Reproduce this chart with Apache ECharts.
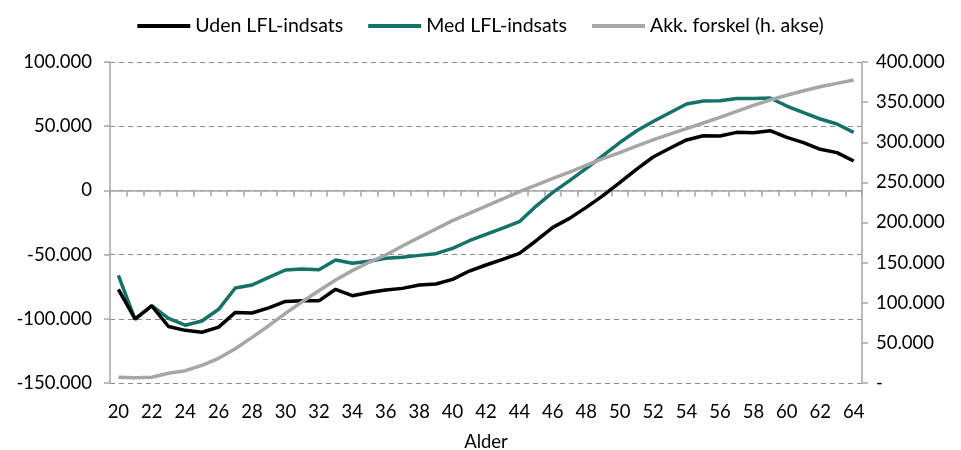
<!DOCTYPE html>
<html>
<head>
<meta charset="utf-8">
<script src="https://cdn.jsdelivr.net/npm/echarts@6/dist/echarts.min.js"></script>
<style>
  html, body { margin: 0; padding: 0; background: #fff; }
  #chart { width: 961px; height: 450px; }
</style>
</head>
<body>
<div id="chart"></div>
<script>
const ages = [];
for (let a = 20; a <= 64; a++) ages.push(String(a));

const udenLFL = [
  -77000, -100000, -90000, -106000, -109000, -110500, -106500, -95000, -95500, -91500,
  -86500, -86000, -86000, -77000, -82000, -79500, -77500, -76300, -73700, -72900,
  -69300, -62800, -58100, -53700, -49000, -39200, -28800, -21800, -13200, -4100,
  6000, 16400, 26000, 32800, 39300, 42600, 42400, 45200, 44900, 46500,
  41300, 37200, 32000, 29400, 22900
];

const medLFL = [
  -66100, -100500, -89800, -99600, -105000, -101700, -92600, -76000, -73700, -67700,
  -62000, -61200, -61800, -54200, -56800, -55200, -52900, -52100, -50600, -49300,
  -45100, -39200, -34200, -29300, -24400, -12200, -1500, 7600, 17200, 27000,
  37200, 46300, 53600, 60500, 67300, 69600, 69900, 71500, 71500, 72000,
  65700, 60500, 55600, 51700, 45200
];

const akkForskel = [
  7100, 6500, 7100, 12100, 15300, 22000, 30800, 42700, 56900, 71400,
  86800, 101300, 115000, 128300, 140000, 150400, 159500, 170700, 181500, 191900,
  202300, 211400, 220500, 229300, 238400, 246700, 255000, 262900, 271200, 279500,
  287000, 295300, 303000, 310200, 316900, 324000, 331000, 338500, 346000, 352600,
  358500, 364200, 369200, 373400, 377500
];

const fontFamily = 'Lato, "Open Sans", sans-serif';

function fmt(v) {
  const s = String(Math.abs(v)).replace(/\B(?=(\d{3})+(?!\d))/g, '.');
  return (v < 0 ? '-' : '') + s;
}

const chart = echarts.init(document.getElementById('chart'));
chart.setOption({
  animation: false,
  textStyle: { fontFamily: fontFamily },
  color: ['#000000', '#147268', '#A6A6A6'],
  legend: {
    top: 11,
    left: 'center',
    itemWidth: 53,
    itemHeight: 4,
    itemGap: 25,
    icon: 'rect',
    textStyle: { fontSize: 19.5, color: '#000', fontFamily: fontFamily },
    data: ['Uden LFL-indsats', 'Med LFL-indsats', 'Akk. forskel (h. akse)']
  },
  grid: { left: 110, right: 99, top: 62, bottom: 67, outerBoundsMode: 'none' },
  xAxis: [
    {
      type: 'category',
      data: ages,
      position: 'top',
      axisLine: { onZero: true, onZeroAxisIndex: 0, lineStyle: { color: '#A6A6A6', width: 1.5 } },
      axisTick: { show: true, inside: true, interval: 0, length: 6, lineStyle: { color: '#A6A6A6', width: 1.5 } },
      axisLabel: { show: false },
      splitLine: { show: false }
    },
    {
      type: 'category',
      data: ages,
      position: 'bottom',
      axisLine: { show: false, onZero: false },
      axisTick: { show: false },
      axisLabel: { interval: 1, fontSize: 18.5, color: '#000', margin: 20 },
      name: 'Alder',
      nameLocation: 'middle',
      nameGap: 50,
      nameTextStyle: { fontSize: 18.5, color: '#000' }
    }
  ],
  yAxis: [
    {
      type: 'value',
      min: -150000,
      max: 100000,
      interval: 50000,
      axisLine: { show: true, lineStyle: { color: '#A6A6A6', width: 1.5 } },
      axisTick: { show: true, length: 6, lineStyle: { color: '#A6A6A6', width: 1.5 } },
      axisLabel: { formatter: fmt, fontSize: 18.5, color: '#000', margin: 18 },
      splitLine: { show: true, lineStyle: { color: '#8C8C8C', type: [5, 4], width: 1.2 } }
    },
    {
      type: 'value',
      min: 0,
      max: 400000,
      interval: 50000,
      position: 'right',
      axisLine: { show: true, lineStyle: { color: '#A6A6A6', width: 1.5 } },
      axisTick: { show: true, length: 6, lineStyle: { color: '#A6A6A6', width: 1.5 } },
      axisLabel: { formatter: (v) => (v === 0 ? '-' : fmt(v)), fontSize: 18.5, color: '#000', margin: 14 },
      splitLine: { show: false }
    }
  ],
  series: [
    {
      name: 'Uden LFL-indsats',
      type: 'line',
      xAxisIndex: 1,
      yAxisIndex: 0,
      data: udenLFL,
      symbol: 'none',
      lineStyle: { width: 3.5, color: '#000000' },
      z: 4
    },
    {
      name: 'Med LFL-indsats',
      type: 'line',
      xAxisIndex: 1,
      yAxisIndex: 0,
      data: medLFL,
      symbol: 'none',
      lineStyle: { width: 3.5, color: '#147268' },
      z: 3
    },
    {
      name: 'Akk. forskel (h. akse)',
      type: 'line',
      xAxisIndex: 1,
      yAxisIndex: 1,
      data: akkForskel,
      symbol: 'none',
      lineStyle: { width: 3.5, color: '#A6A6A6' },
      z: 5
    }
  ]
});
</script>
</body>
</html>
